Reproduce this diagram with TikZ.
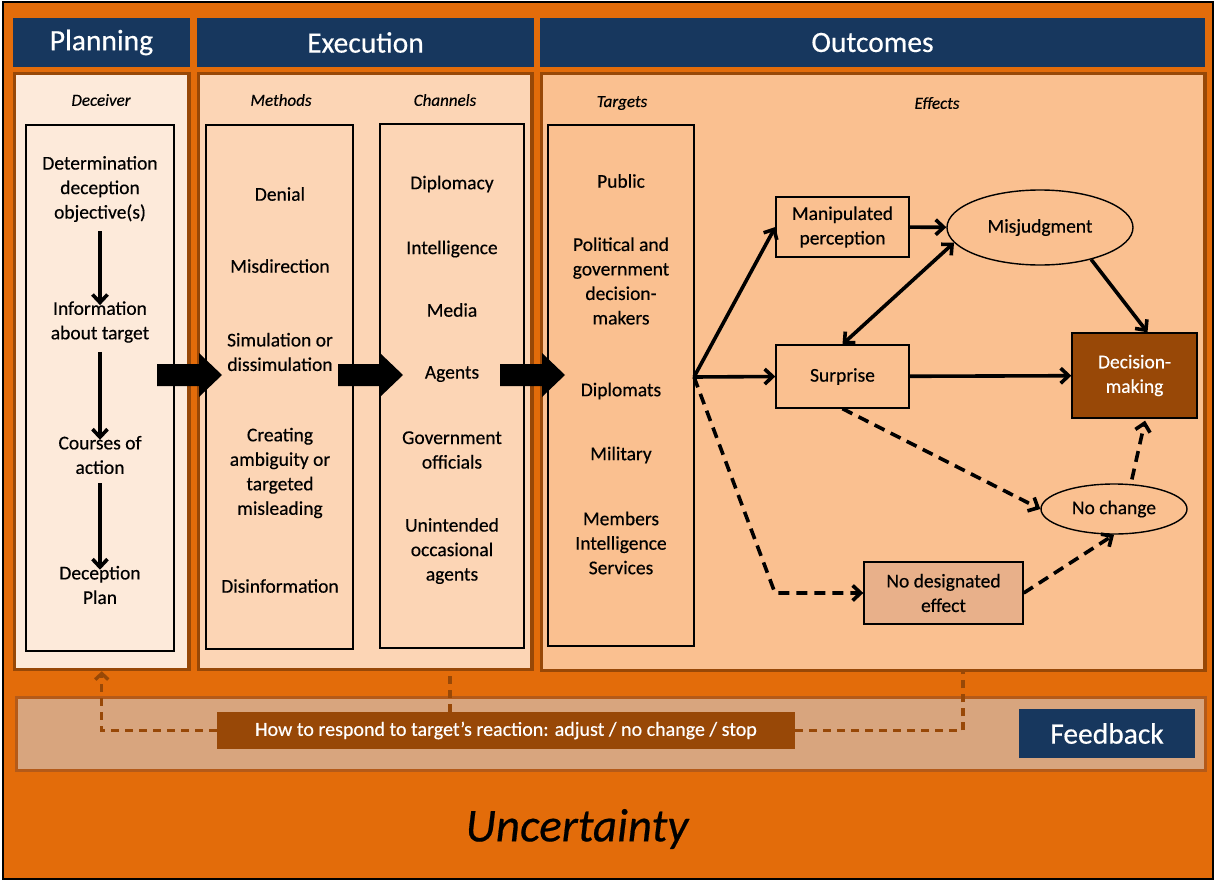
\documentclass[tikz,border=0pt]{standalone}
\usepackage{fontspec}
\setmainfont{Carlito}[UprightFeatures={FakeBold=0.4}, ItalicFeatures={FakeBold=0.4}]
\usetikzlibrary{arrows.meta,shapes.geometric}

\definecolor{orangebg}{RGB}{227,108,10}
\definecolor{navy}{RGB}{23,55,94}
\definecolor{brownedge}{RGB}{152,72,7}
\definecolor{fbedge}{RGB}{180,90,25}
\definecolor{planfill}{RGB}{253,234,218}
\definecolor{execfill}{RGB}{252,213,181}
\definecolor{outfill}{RGB}{250,192,144}
\definecolor{fbfill}{RGB}{216,165,126}
\definecolor{ndefill}{RGB}{232,176,138}

\tikzset{
	header/.style={fill=navy, text=white, inner sep=0pt, font=\fontsize{29.5}{34}\selectfont},
	panel/.style={draw=brownedge, line width=3.5pt, inner sep=0pt},
	inbox/.style={draw=black, line width=1.4pt, inner sep=0pt},
	lbl/.style={font=\fontsize{17}{20}\selectfont\itshape},
	item/.style={align=center, inner sep=0pt, font=\fontsize{19.5}{24.5}\selectfont},
	effbox/.style={draw=black, line width=1.4pt, fill=outfill, align=center, font=\fontsize{19.5}{24.5}\selectfont},
	arr/.style={line width=3.6pt, -{Straight Barb[length=8pt,width=15pt]}},
	dsh/.style={arr, dash pattern=on 11pt off 7pt},
	fbline/.style={draw=brownedge, line width=3.4pt, dash pattern=on 8pt off 6pt}
}

\begin{document}
\begin{tikzpicture}[x=1pt, y=-1pt]
\useasboundingbox (0,0) rectangle (1216,881);
\draw[fill=orangebg, line width=1.5pt] (3,2) rectangle (1213,879);

% headers
\node[header, minimum width=177pt, minimum height=49pt] (planh) at (101.5,42.5) {Planning};
\node[header, minimum width=337pt, minimum height=49pt] (exech) at (365.5,42.5) {Execution};
\node[header, minimum width=665pt, minimum height=49pt] (outh) at (872.5,42.5) {Outcomes};

% panels
\node[panel, fill=planfill, minimum width=174.5pt, minimum height=596pt] (planp) at (101.75,371.5) {};
\node[panel, fill=execfill, minimum width=333.5pt, minimum height=596pt] (execp) at (365.25,371.5) {};
\node[panel, fill=outfill, minimum width=663.5pt, minimum height=597pt] (outp) at (873.25,372) {};

\node[inbox, minimum width=148pt, minimum height=526pt] (decbox) at (100,388) {};
\node[inbox, minimum width=147pt, minimum height=524pt] (methbox) at (279.5,387) {};
\node[inbox, minimum width=144pt, minimum height=524pt] (chanbox) at (452,386) {};
\node[inbox, minimum width=146pt, minimum height=521pt] (tgtbox) at (621,385.5) {};

\node[lbl] (declbl) at (101,100) {Deceiver};
\node[lbl] (methlbl) at (281,100) {Methods};
\node[lbl] (chanlbl) at (445,100) {Channels};
\node[lbl] (tgtlbl) at (622,103) {Targets};
\node[lbl] (efflbl) at (937,103) {Effects};

% planning
\foreach \y/\t [count=\i] in {189/{Determination\\deception\\objective(s)}, 322/{Information\\about target},
		455/{Courses of\\action}, 585/{Deception\\Plan}}
	\node[item] (p\i) at (100,\y) {\t};
\draw[arr, shorten <=9pt, shorten >=-4pt] (p1) -- (p2);
\draw[arr, shorten <=9pt, shorten >=-4pt] (p2) -- (p3);
\draw[arr, shorten <=9pt, shorten >=-4pt] (p3) -- (p4);

% methods and channels
\foreach \y/\t [count=\i] in {194/Denial, 266/Misdirection, 352/{Simulation or\\dissimulation},
		473/{Creating\\ambiguity or\\targeted\\misleading}, 586/Disinformation}
	\node[item] (meth\i) at (280,\y) {\t};
\foreach \y/\t [count=\i] in {184/Diplomacy, 249/Intelligence, 310/Media, 374/Agents,
		450/{Government\\officials}, 551/{Unintended\\occasional\\agents}}
	\node[item] (chan\i) at (452,\y) {\t};
\foreach \y/\t [count=\i] in {181/Public, 281/{Political and\\government\\decision-\\makers}, 391/Diplomats,
		455/Military, 543/{Members\\Intelligence\\Services}}
	\node[item] (tgt\i) at (621,\y) {\t};

% block arrows
\foreach \x in {157,338,500}
	\fill (\x,364) -- (\x+42,364) -- (\x+42,353) -- (\x+65,375) -- (\x+42,397) -- (\x+42,386) -- (\x,386) -- cycle;

% effects
\node[effbox, minimum width=133pt, minimum height=60pt] (manip) at (842.5,227) {Manipulated\\perception};
\node[effbox, ellipse, minimum width=186pt, minimum height=75pt] (misj) at (1040,227.5) {Misjudgment};
\node[effbox, minimum width=133pt, minimum height=63pt] (surp) at (842.5,376.5) {Surprise};
\node[effbox, fill=brownedge, text=white, minimum width=125pt, minimum height=85pt] (dm) at (1134.5,375.5) {Decision-\\making};
\node[effbox, ellipse, minimum width=146pt, minimum height=50pt] (noch) at (1114,509) {No change};
\node[effbox, fill=ndefill, minimum width=159pt, minimum height=62pt] (nde) at (943.5,593) {No designated\\effect};
\coordinate (tgt) at (694,377);
\coordinate (bend) at (775,593);

\draw[arr] (tgt) -- (manip.west);
\draw[arr] (tgt) -- (surp.west);
\draw[arr] (manip) -- (misj);
\draw[arr, {Straight Barb[length=8pt,width=15pt]}-{Straight Barb[length=8pt,width=15pt]}] (misj.190) -- (surp.north);
\draw[arr] (misj.328) -- ([xshift=13pt]dm.north);
\draw[arr] (surp) -- (dm);
\draw[dsh] (surp.south) -- (noch.west);
\draw[dsh] (tgt) -- (bend) -- (nde.west);
\draw[dsh] (nde.east) -- (noch.south);
\draw[dsh, shorten <=4pt, shorten >=2pt] ([xshift=17pt]noch.north) -- ([xshift=11pt]dm.south);

% feedback
\node[draw=fbedge, line width=3pt, fill=fbfill, minimum width=1189pt, minimum height=73pt] (fb) at (610.5,733.5) {};
\node[fill=brownedge, text=white, inner sep=0pt, minimum width=578pt, minimum height=37pt,
	font=\fontsize{20}{24}\selectfont] (how) at (506,730.5) {How to respond to target’s reaction: adjust / no change / stop};
\node[header, minimum width=176pt, minimum height=49pt] (fbh) at (1107,733.5) {Feedback};
\draw[fbline, -{Straight Barb[length=6pt,width=13pt]}] (how.west) -| (planp.south);
\draw[fbline] ([xshift=-56pt]how.north) -- ([xshift=84.75pt]execp.south);
\draw[fbline] (how.east) -| ([xshift=89.75pt]outp.south);

\node[font=\fontsize{47}{50}\selectfont\itshape] (unc) at (577,829) {Uncertainty};
\end{tikzpicture}
\end{document}
